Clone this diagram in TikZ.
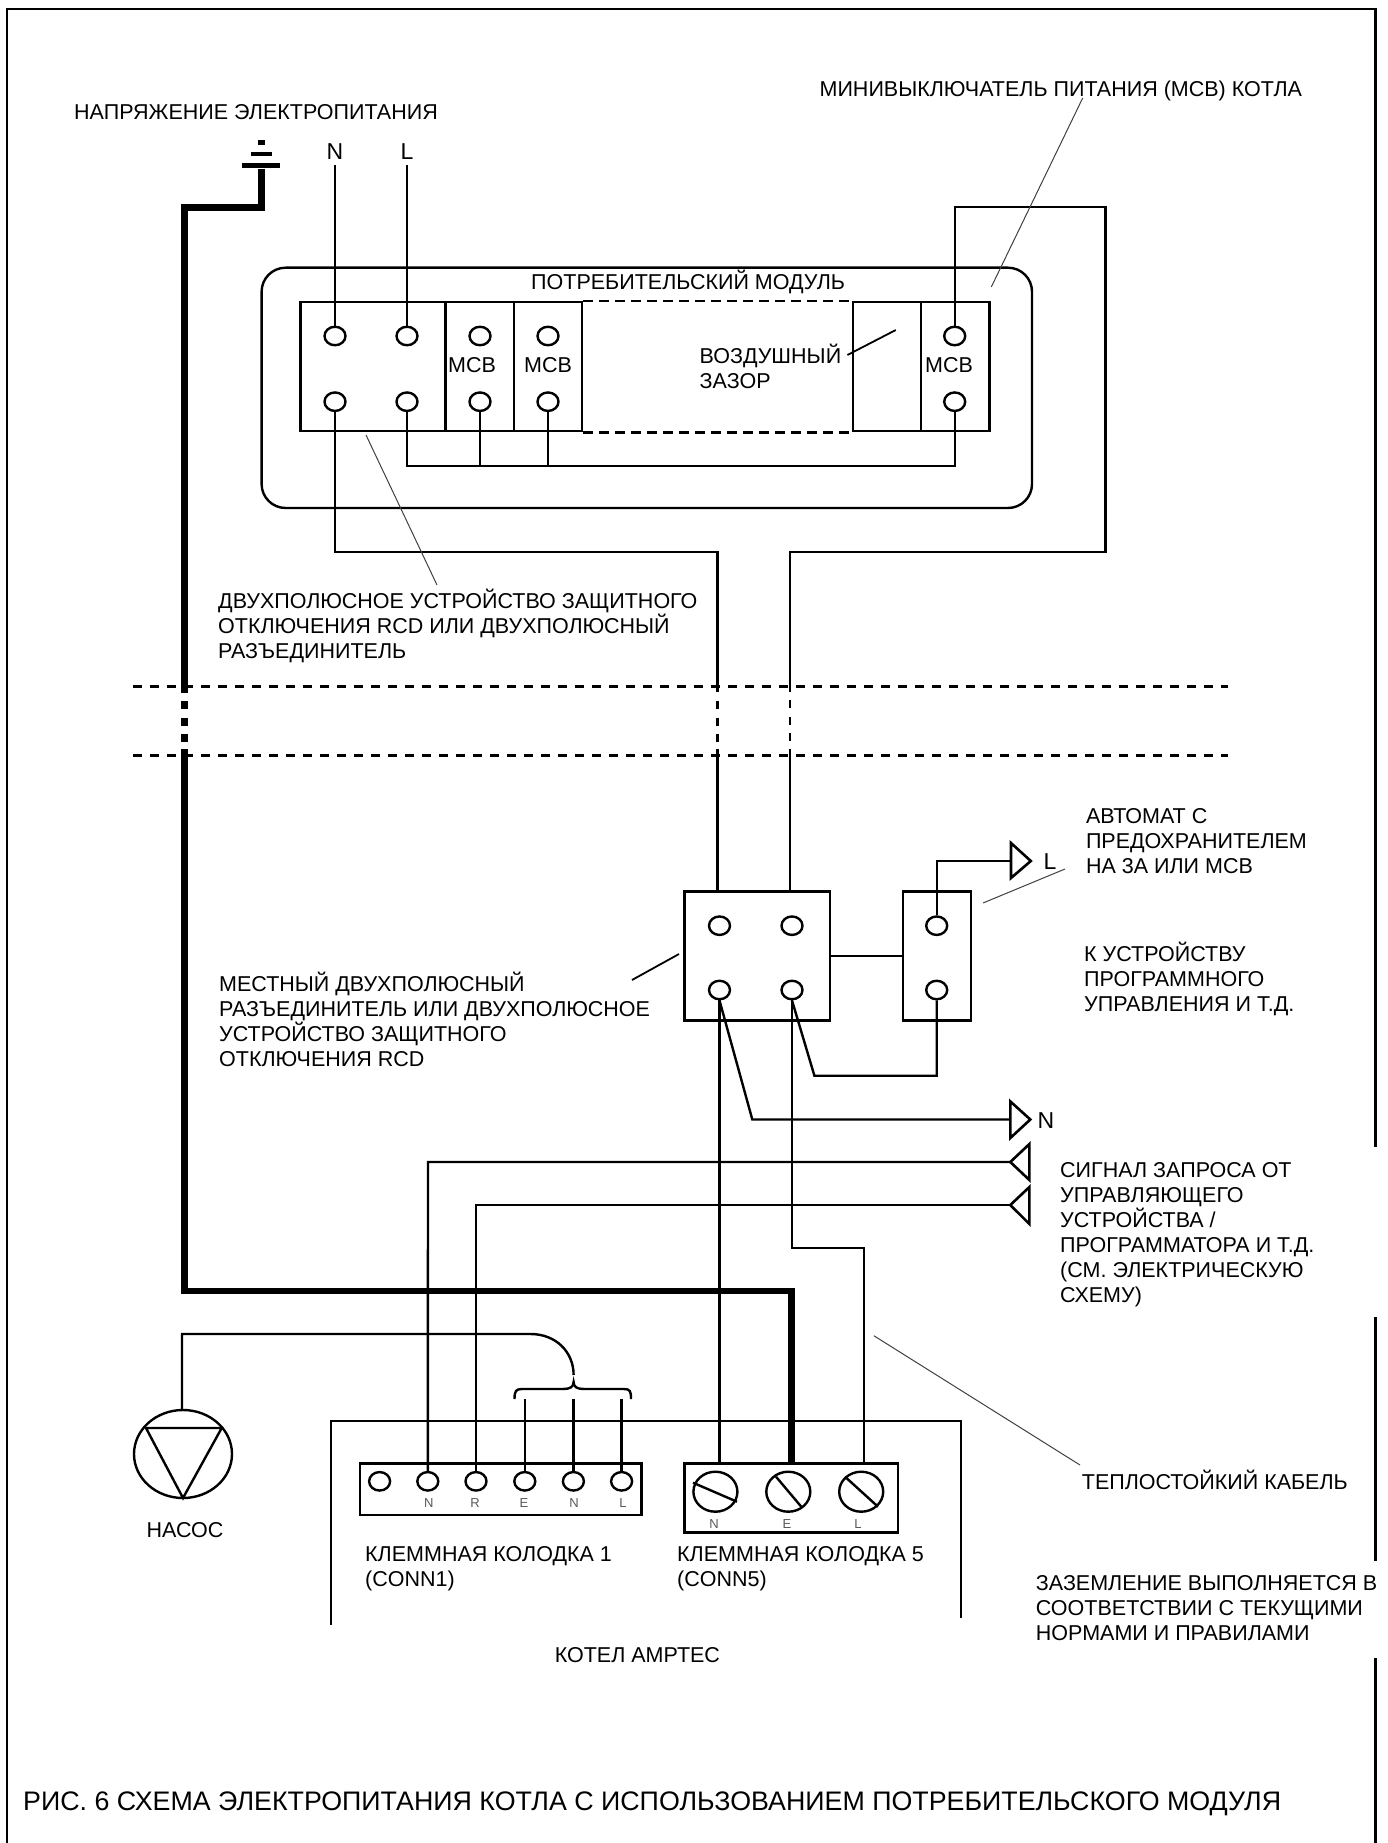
\documentclass[tikz,border=0pt]{standalone}
\usepackage{fontspec}
\setmainfont{Liberation Sans}
\usetikzlibrary{shapes.geometric}
\newcommand{\fs}[1]{\fontsize{#1}{25}\selectfont}
\tikzset{
  wire/.style={line width=2.4pt,line join=miter,black},
  cutwire/.style={line width=2.4pt,dash pattern=on 8pt off 8.5pt},
  earthwire/.style={line width=6.5pt,line join=miter,black},
  cutearth/.style={line width=6.5pt,dash pattern=on 8pt off 8.5pt},
  leader/.style={line width=1pt,black!75},
  leaderb/.style={line width=1.8pt,black},
  pin/.style={ellipse,draw,line width=2.4pt,minimum width=21pt,minimum height=18.5pt,inner sep=0pt},
  screw/.style={ellipse,draw,line width=2.4pt,minimum width=44pt,minimum height=40pt,inner sep=0pt},
  blockbox/.style={rectangle,draw,line width=2.4pt,inner sep=0pt},
  gap/.style={line width=2.6pt,dash pattern=on 10pt off 6pt},
  cutline/.style={line width=3pt,dash pattern=on 9pt off 8pt},
  bar/.style={rectangle,fill=black,inner sep=0pt},
  txt/.style={anchor=west,inner sep=0pt,align=left,font=\fs{21.5},black},
  ctxt/.style={inner sep=0pt,font=\fs{21.5},black},
  poleletter/.style={inner sep=0pt,font=\fs{23},black},
  tiny/.style={inner sep=0pt,font=\fs{13},black!65},
  sig/.style={line width=2.6pt,line join=miter},
  boiler/.style={line width=1.8pt},
  frameline/.style={line width=2.5pt,line cap=butt}
}
\begin{document}
\begin{tikzpicture}[x=1pt,y=-1pt]
\useasboundingbox (0,0) rectangle (1388,1843);
% ---- outer frame, open on the right in places
\coordinate (fa) at (7,1843); \coordinate (fb) at (7,9); \coordinate (fc) at (1375.7,9); \coordinate (fd) at (1375.7,1147);
\coordinate (fe) at (1375.7,1317); \coordinate (ff) at (1375.7,1561); \coordinate (fg) at (1375.7,1658); \coordinate (fh) at (1375.7,1843);
\draw[frameline,line join=miter] (fa) -- (fb) -- (fc) -- (fd);
\draw[frameline] (fe) -- (ff);
\draw[frameline] (fg) -- (fh);

% ---- consumer unit
\node[rectangle,draw,line width=2.4pt,rounded corners=24pt,minimum width=770.4pt,minimum height=240.3pt,inner sep=0pt] (module) at (646.8,387.85) {};
\node[blockbox,minimum width=145pt,minimum height=128.7pt] (b1) at (373,366.65) {};
\node[blockbox,minimum width=68.5pt,minimum height=128.7pt] (b2) at (479.75,366.65) {};
\node[blockbox,minimum width=67.7pt,minimum height=128.7pt] (b3) at (547.85,366.65) {};
\node[blockbox,minimum width=67.8pt,minimum height=128.7pt] (b4) at (886.8,366.65) {};
\node[blockbox,minimum width=68.8pt,minimum height=128.7pt] (b5) at (955.1,366.65) {};
\draw[gap] (b3.north east) -- (b4.north west);
\draw[gap] (b3.south east) -- (b4.south west);
\node[pin] (pn1) at (335,336) {};
\node[pin] (pl1) at (407,336) {};
\node[pin] (pm1) at (480,336) {};
\node[pin] (pm2) at (548,336) {};
\node[pin] (pm3) at (954.7,336) {};
\node[pin] (pn2) at (335,401.7) {};
\node[pin] (pl2) at (407,401.7) {};
\node[pin] (pm4) at (480,401.7) {};
\node[pin] (pm5) at (548,401.7) {};
\node[pin] (pm6) at (954.7,401.7) {};
\node[ctxt] (mcb1) at (472,365) {МСВ};
\node[ctxt] (mcb2) at (548,365) {МСВ};
\node[ctxt] (mcb3) at (949,365) {МСВ};
\node[ctxt,anchor=west] (modlabel) at (531,281.7) {ПОТРЕБИТЕЛЬСКИЙ МОДУЛЬ};

% ---- supply
\node[ctxt,anchor=west] (supply) at (74,112) {НАПРЯЖЕНИЕ ЭЛЕКТРОПИТАНИЯ};
\node[poleletter] (lblN) at (335,152) {N};
\node[poleletter] (lblL) at (407,152) {L};
\coordinate (nEnd) at (335,165);
\coordinate (lEnd) at (407,165);
\draw[wire] (nEnd) -- (pn1.north);
\draw[wire] (lEnd) -- (pl1.north);
\node[bar,minimum width=7pt,minimum height=5pt] (g1) at (261.6,143) {};
\node[bar,minimum width=21pt,minimum height=4.5pt] (g2) at (261.6,154) {};
\node[bar,minimum width=38pt,minimum height=5pt] (g3) at (261,166) {};

% ---- inside unit wiring
\coordinate (busA) at (407,466);
\coordinate (busB) at (954.7,466);
\draw[wire] (pl2.south) -- (busA) -- (busB) -- (pm6.south);
\draw[wire] (pm4.south) -- (pm4.south |- busA);
\draw[wire] (pm5.south) -- (pm5.south |- busA);

% ---- local isolator and fuse
\node[blockbox,minimum width=145.6pt,minimum height=129pt] (rcd) at (757.2,955.9) {};
\node[blockbox,minimum width=68.2pt,minimum height=129pt] (fuse) at (936.9,955.9) {};
\draw[wire] (rcd.east) -- (fuse.west);
\node[pin] (r1) at (719.5,925.7) {};
\node[pin] (r2) at (792,925.7) {};
\node[pin] (r3) at (719.5,990) {};
\node[pin] (r4) at (792,990) {};
\node[pin] (f1) at (936.7,925.7) {};
\node[pin] (f2) at (936.7,990) {};

% ---- neutral and live feeds through the cut
\coordinate (na) at (335,551.7);
\coordinate (nb) at (717.4,551.7);
\coordinate (nc) at (717.4,692);
\coordinate (nd) at (717.4,701);
\coordinate (ne) at (717.4,742);
\coordinate (nf) at (717.4,749);
\coordinate (ng) at (717.4,891.4);
\draw[wire] (pn2.south) -- (na) -- (nb) -- (nc);
\draw[cutwire] (nd) -- (ne);
\draw[wire] (nf) -- (ng);
\coordinate (la) at (954.7,207);
\coordinate (lb) at (1105.3,207);
\coordinate (lc) at (1105.3,551.7);
\coordinate (ld) at (790,551.7);
\coordinate (le) at (790,692);
\coordinate (lf) at (790,700);
\coordinate (lg) at (790,741);
\coordinate (lh) at (790,749);
\coordinate (li) at (790,891.4);
\draw[wire] (pm3.north) -- (la) -- (lb) -- (lc) -- (ld) -- (le);
\draw[cutwire] (lf) -- (lg);
\draw[wire] (lh) -- (li);

% ---- cut lines
\coordinate (c1a) at (133,686); \coordinate (c1b) at (1228,686);
\coordinate (c2a) at (133,755); \coordinate (c2b) at (1228,755);
\draw[cutline] (c1a) -- (c1b);
\draw[cutline] (c2a) -- (c2b);

% ---- earth
\coordinate (ea) at (261.6,207.7);
\coordinate (eb) at (184.4,207.7);
\coordinate (ec) at (184.4,693);
\coordinate (ed) at (184.4,701);
\coordinate (ee) at (184.4,742);
\coordinate (ef) at (184.4,749);
\coordinate (eg) at (184.4,1291);
\coordinate (eh) at (791.7,1291);
\coordinate (ei) at (791.7,1463);
\draw[earthwire] (g3.south -| ea) -- (ea) -- (eb) -- (ec);
\draw[cutearth] (ed) -- (ee);
\draw[earthwire] (ef) -- (eg) -- (eh) -- (ei);

% ---- outgoing L and N
\coordinate (tLa) at (1011,843); \coordinate (tLb) at (1011,878); \coordinate (tLc) at (1030.8,861);
\coordinate (tLw) at (1011,861.2);
\coordinate (tLk) at (936.7,861.2);
\draw[sig] (tLa) -- (tLc) -- (tLb) -- cycle;
\draw[wire] (f1.north) -- (tLk) -- (tLw);
\node[poleletter] (outL) at (1050,862) {L};
\coordinate (tNa) at (1010.3,1101.4); \coordinate (tNb) at (1010.3,1138); \coordinate (tNc) at (1030.3,1119.5);
\coordinate (tNw) at (1010.3,1119.5);
\coordinate (tNk) at (752.3,1119.5);
\draw[sig] (tNa) -- (tNc) -- (tNb) -- cycle;
\draw[wire] (r3.south) -- (tNk) -- (tNw);
\node[poleletter] (outN) at (1046,1121) {N};
\coordinate (lk1) at (936.7,1075.7);
\coordinate (lk2) at (814.4,1075.7);
\draw[wire] (f2.south) -- (lk1) -- (lk2) -- (r4.south);

% ---- demand signals
\coordinate (s1a) at (1029.4,1144); \coordinate (s1b) at (1029.4,1180); \coordinate (s1c) at (1010.3,1162);
\coordinate (s2a) at (1029.4,1187); \coordinate (s2b) at (1029.4,1224); \coordinate (s2c) at (1010.3,1205);
\draw[sig] (s1a) -- (s1c) -- (s1b) -- cycle;
\draw[sig] (s2a) -- (s2c) -- (s2b) -- cycle;

% ---- boiler
\coordinate (ba) at (330.8,1625); \coordinate (bb) at (330.8,1420.7); \coordinate (bc) at (961,1420.7); \coordinate (bd) at (961,1617.7);
\draw[boiler] (ba) -- (bb) -- (bc) -- (bd);

% ---- terminal block 1
\node[blockbox,line width=2.8pt,minimum width=281.3pt,minimum height=51.7pt] (tb1) at (500.6,1489.2) {};
\node[pin] (k0) at (379.6,1481.3) {};
\node[pin] (k1) at (427.8,1481.3) {};
\node[pin] (k2) at (476,1481.3) {};
\node[pin] (k3) at (524.8,1481.3) {};
\node[pin] (k4) at (573.4,1481.3) {};
\node[pin] (k5) at (621.6,1481.3) {};
\node[tiny] (kn) at (428.9,1503) {N};
\node[tiny] (kr) at (475,1503) {R};
\node[tiny] (ke) at (524,1503) {E};
\node[tiny] (kn2) at (574,1503) {N};
\node[tiny] (kl) at (623,1503) {L};

% ---- terminal block 5
\node[blockbox,line width=2.8pt,minimum width=213.6pt,minimum height=69.7pt] (tb5) at (791.2,1498) {};
\node[screw] (sN) at (715.4,1491.7) {};
\node[screw] (sE) at (788.3,1491.7) {};
\node[screw] (sL) at (861.2,1491.7) {};
\coordinate (sNa) at (693,1482.7); \coordinate (sNb) at (737,1501.7);
\coordinate (sEa) at (776,1476.7); \coordinate (sEb) at (801.5,1507);
\coordinate (sLa) at (845,1476.7); \coordinate (sLb) at (878,1506.7);
\draw[wire] (sNa) -- (sNb);
\draw[wire] (sEa) -- (sEb);
\draw[wire] (sLa) -- (sLb);
\node[tiny] (tn) at (714,1524) {N};
\node[tiny] (te) at (787,1524) {E};
\node[tiny] (tl) at (858,1524) {L};

% ---- wires to terminals
\coordinate (s1k) at (428,1162);
\coordinate (s2k) at (476,1205);
\draw[wire] (s1c) -- (s1k) -- (k1.north);
\draw[wire] (s2c) -- (s2k) -- (k2.north);
\coordinate (toN) at (719.5,1463.3);
\draw[wire] (r3.south) -- (toN);
\coordinate (toLa) at (792,1247.9);
\coordinate (toLb) at (864,1247.9);
\coordinate (toLc) at (864,1463.3);
\draw[wire] (r4.south) -- (toLa) -- (toLb) -- (toLc);

% ---- pump
\node[ellipse,draw,line width=2.4pt,minimum width=98pt,minimum height=88pt,inner sep=0pt] (pump) at (183,1454) {};
\coordinate (pa) at (146,1428); \coordinate (pb) at (221.7,1428); \coordinate (pc) at (183,1498);
\draw[wire] (pa) -- (pb) -- (pc) -- cycle;
\coordinate (qa) at (182,1334); \coordinate (qb) at (530.5,1334); \coordinate (qc) at (573.6,1375);
\draw[wire] (pump.north -| qa) -- (qa) -- (qb) .. controls (556,1334) and (573.6,1352) .. (qc);
\coordinate (ta) at (524.8,1399); \coordinate (tb) at (573.4,1399); \coordinate (tc) at (621.6,1399);
\draw[wire] (ta) -- (k3.north);
\draw[wire] (tb) -- (k4.north);
\draw[wire] (tc) -- (k5.north);
\draw[wire] (514.5,1399) .. controls (514.5,1391) and (516,1389) .. (522,1389) -- (563,1389) .. controls (570,1389) and (573.6,1387) .. (573.6,1382) .. controls (573.6,1387) and (577,1389) .. (584,1389) -- (624,1389) .. controls (630,1389) and (631,1391) .. (631,1399);

% ---- leaders
\coordinate (ld1a) at (366,435); \coordinate (ld1b) at (437,585);
\draw[leader] (ld1a) -- (ld1b);
\coordinate (ld2a) at (1082.7,98); \coordinate (ld2b) at (991.3,287);
\draw[leader] (ld2a) -- (ld2b);
\coordinate (ld3a) at (847.4,355); \coordinate (ld3b) at (895.8,330);
\draw[leaderb] (ld3a) -- (ld3b);
\coordinate (ld4a) at (983,903); \coordinate (ld4b) at (1065,869);
\draw[leader] (ld4a) -- (ld4b);
\coordinate (ld6a) at (873.8,1335.7); \coordinate (ld6b) at (1080,1465);
\draw[leader] (ld6a) -- (ld6b);
\coordinate (ld7a) at (632,980); \coordinate (ld7b) at (679,954);
\draw[leaderb] (ld7a) -- (ld7b);

% ---- labels
\node[ctxt,anchor=west] (lab1) at (819.4,91) {МИНИВЫКЛЮЧАТЕЛЬ ПИТАНИЯ (МСВ) КОТЛА};
\node[txt] (lab2) at (699.5,366.5) {ВОЗДУШНЫЙ\\ЗАЗОР};
\node[txt] (lab3) at (218,626) {ДВУХПОЛЮСНОЕ УСТРОЙСТВО ЗАЩИТНОГО\\ОТКЛЮЧЕНИЯ RCD ИЛИ ДВУХПОЛЮСНЫЙ\\РАЗЪЕДИНИТЕЛЬ};
\node[txt] (lab4) at (1085.8,841) {АВТОМАТ С\\ПРЕДОХРАНИТЕЛЕМ\\НА 3А ИЛИ МСВ};
\node[txt] (lab5) at (1084,979) {К УСТРОЙСТВУ\\ПРОГРАММНОГО\\УПРАВЛЕНИЯ И Т.Д.};
\node[txt] (lab6) at (219,1019) {МЕСТНЫЙ ДВУХПОЛЮСНЫЙ\\РАЗЪЕДИНИТЕЛЬ ИЛИ ДВУХПОЛЮСНОЕ\\УСТРОЙСТВО ЗАЩИТНОГО\\ОТКЛЮЧЕНИЯ RCD};
\node[txt] (lab7) at (1060,1235) {СИГНАЛ ЗАПРОСА ОТ\\УПРАВЛЯЮЩЕГО\\УСТРОЙСТВА /\\ПРОГРАММАТОРА И Т.Д.\\(СМ. ЭЛЕКТРИЧЕСКУЮ\\СХЕМУ)};
\node[ctxt,anchor=west] (lab8) at (1081.7,1480) {ТЕПЛОСТОЙКИЙ КАБЕЛЬ};
\node[txt] (lab9) at (1035.7,1608) {ЗАЗЕМЛЕНИЕ ВЫПОЛНЯЕТСЯ В\\СООТВЕТСТВИИ С ТЕКУЩИМИ\\НОРМАМИ И ПРАВИЛАМИ};
\node[ctxt] (pumpl) at (185,1530) {НАСОС};
\node[txt] (conn1) at (365,1568.5) {КЛЕММНАЯ КОЛОДКА 1\\(CONN1)};
\node[txt] (conn5) at (677,1568.5) {КЛЕММНАЯ КОЛОДКА 5\\(CONN5)};
\node[ctxt,anchor=west] (blab) at (554.6,1655) {КОТЕЛ АМРТЕС};
\node[inner sep=0pt,anchor=west,font=\fs{26.8},black] (cap) at (23,1804) {РИС. 6 СХЕМА ЭЛЕКТРОПИТАНИЯ КОТЛА С ИСПОЛЬЗОВАНИЕМ ПОТРЕБИТЕЛЬСКОГО МОДУЛЯ};
\end{tikzpicture}
\end{document}
